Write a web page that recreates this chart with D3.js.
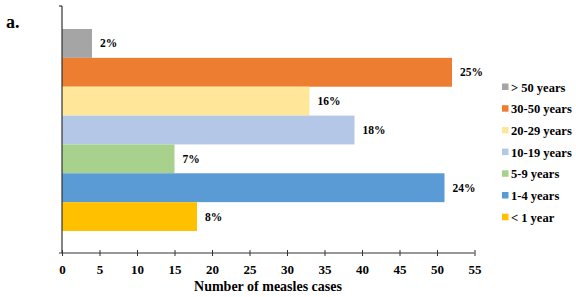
<!DOCTYPE html>
<html>
<head>
<meta charset="utf-8">
<script src="https://cdn.jsdelivr.net/npm/d3@7"></script>
<style>
  body { margin: 0; background: #fff; }
</style>
</head>
<body>
<div id="chart"></div>
<script>
// Data, top bar first
const ageGroups = ["> 50 years", "30-50 years", "20-29 years", "10-19 years", "5-9 years", "1-4 years", "< 1 year"];
const cases = [4, 52, 33, 39, 15, 51, 18];
const percents = ["2%", "25%", "16%", "18%", "7%", "24%", "8%"];
const colors = ["#A5A5A5", "#ED7D31", "#FFE699", "#B4C7E7", "#A9D18E", "#5B9BD5", "#FFC000"];
const xTicks = [0, 5, 10, 15, 20, 25, 30, 35, 40, 45, 50, 55];

const width = 576, height = 297;
const axisX = 62, axisTop = 6, axisBottom = 253;
const serif = "'Liberation Serif', 'Times New Roman', serif";

const svg = d3.select("#chart").append("svg")
  .attr("width", width)
  .attr("height", height);

const x = d3.scaleLinear().domain([0, 55]).range([axisX, 474.5]);
const y = d3.scaleBand().domain(ageGroups).range([29, 231]).padding(0);
const color = d3.scaleOrdinal().domain(ageGroups).range(colors);

function label(sel, size) {
  return sel.style("font-family", serif)
    .style("font-weight", "bold")
    .style("font-size", size + "px")
    .attr("fill", "#000");
}

// panel label
label(svg.append("text"), 18)
  .attr("x", 6).attr("y", 28)
  .text("a.");

// bars
svg.selectAll(".bar")
  .data(ageGroups)
  .enter().append("rect")
  .attr("class", "bar")
  .attr("x", x(0))
  .attr("y", d => y(d))
  .attr("width", (d, i) => x(cases[i]) - x(0))
  .attr("height", y.bandwidth())
  .attr("fill", d => color(d));

// value labels
label(svg.selectAll(".pct")
  .data(ageGroups)
  .enter().append("text")
  .attr("class", "pct"), 11.5)
  .attr("x", (d, i) => x(cases[i]) + 8)
  .attr("y", d => y(d) + y.bandwidth() / 2 + 4)
  .text((d, i) => percents[i]);

// y axis line
svg.append("line")
  .attr("x1", axisX).attr("x2", axisX)
  .attr("y1", axisTop).attr("y2", axisBottom)
  .attr("stroke", "#333").attr("stroke-width", 1.2);
svg.append("line")
  .attr("x1", axisX - 3).attr("x2", axisX)
  .attr("y1", axisTop).attr("y2", axisTop)
  .attr("stroke", "#333").attr("stroke-width", 1.2);

// x axis
const xAxis = d3.axisBottom(x).tickValues(xTicks).tickSize(3).tickSizeOuter(0).tickPadding(9);
const xg = svg.append("g")
  .attr("transform", `translate(0,${axisBottom})`)
  .call(xAxis);
xg.select(".domain").attr("stroke", "#333").attr("stroke-width", 1.2)
  .attr("d", `M${axisX - 3},0H${x(55)}`);
xg.selectAll(".tick line").attr("stroke", "#333").attr("y1", -3).attr("y2", 3);
label(xg.selectAll(".tick text"), 13);

label(svg.append("text"), 14)
  .attr("x", 268).attr("y", 291)
  .attr("text-anchor", "middle")
  .text("Number of measles cases");

// legend
const legend = svg.append("g").attr("transform", "translate(502,87)");
ageGroups.forEach((g, i) => {
  const item = legend.append("g").attr("transform", `translate(0,${i * 21.7})`);
  item.append("rect")
    .attr("x", 0).attr("y", -3.5)
    .attr("width", 6.5).attr("height", 6.5)
    .attr("fill", color(g));
  label(item.append("text"), 12.5)
    .attr("x", 9).attr("y", 4.5)
    .text(g);
});
</script>
</body>
</html>
